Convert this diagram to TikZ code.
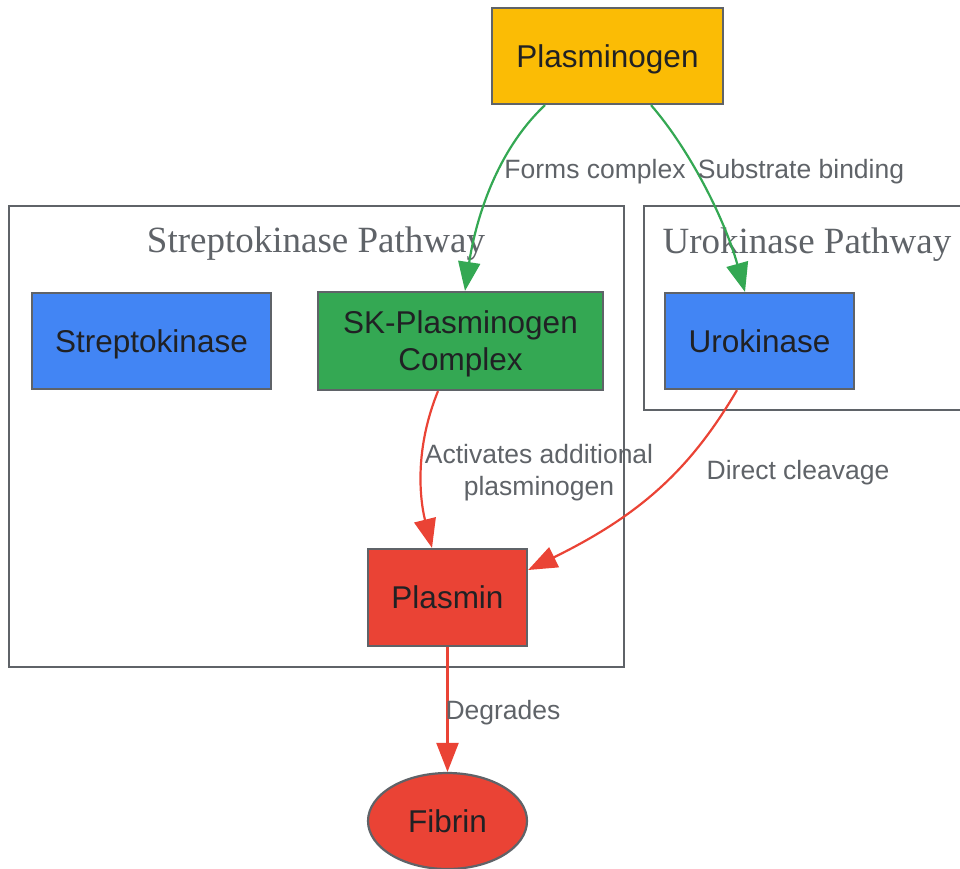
\documentclass[tikz,border=0pt]{standalone}
\usepackage{fontspec}
\setmainfont{Liberation Sans}
\newfontfamily\titlefont{Liberation Serif}
\usetikzlibrary{shapes.geometric,arrows.meta}
\definecolor{gy}{HTML}{FBBC05}
\definecolor{gb}{HTML}{4285F4}
\definecolor{gg}{HTML}{34A853}
\definecolor{gr}{HTML}{EA4335}
\definecolor{bordc}{HTML}{5F6368}
\definecolor{txtc}{HTML}{202124}
\tikzset{
  nodebase/.style={draw=bordc, line width=2.2pt, text=txtc, align=center,
    font=\fontsize{31.5}{37}\selectfont, inner sep=0pt},
  nodebox/.style={nodebase, text height=22.6pt, text depth=0pt},
  clusterbox/.style={draw=bordc, line width=2.2pt},
  clustertitle/.style={text=bordc, font=\titlefont\fontsize{37}{40}\selectfont, inner sep=0pt,
    text height=24.5pt, text depth=0pt},
  elabelbase/.style={text=bordc, font=\fontsize{26.5}{32}\selectfont, align=center, inner sep=0pt},
  elabel/.style={elabelbase, text height=19pt, text depth=0pt},
  conn/.style={line width=2.2pt, -{Triangle[length=29pt,width=22pt]}},
}
\begin{document}
\begin{tikzpicture}[x=1pt,y=-1pt]
\useasboundingbox (0,0) rectangle (960,868);
% clusters
\draw[clusterbox] (9,206) rectangle (624,667);
\node[clustertitle] (t1) at (316,240.5) {Streptokinase Pathway};
\draw[clusterbox] (964,206) -- (644,206) -- (644,410) -- (964,410);
\node[clustertitle] (t2) at (807,241) {Urokinase Pathway};
% nodes
\node[nodebox, fill=gy, minimum width=231pt, minimum height=96pt] (plg) at (607.5,56) {Plasminogen};
\node[nodebox, fill=gb, minimum width=239pt, minimum height=96pt] (sk) at (151.5,341) {Streptokinase};
\node[nodebase, fill=gg, minimum width=285pt, minimum height=98pt] (skc) at (460.5,341)
  {\raisebox{-3.5pt}[\height][\depth]{\begin{tabular}{@{}c@{}}SK-Plasminogen\\Complex\end{tabular}}};
\node[nodebox, fill=gb, minimum width=189pt, minimum height=96pt] (uro) at (759.5,341) {Urokinase};
\node[nodebox, fill=gr, minimum width=159pt, minimum height=97pt] (pla) at (447.5,597.5) {Plasmin};
\node[nodebox, fill=gr, ellipse, minimum width=159pt, minimum height=96pt] (fib) at (447.5,821) {Fibrin};
% connectors
\draw[conn, draw=gg] ([xshift=-62.5pt]plg.south) .. controls (492,155) and (474,230) .. ([xshift=4.5pt]skc.north);
\draw[conn, draw=gg] ([xshift=43.5pt]plg.south) .. controls (690,150) and (725,220) .. ([xshift=-14.5pt]uro.north);
\draw[conn, draw=gr] ([xshift=-22.5pt]skc.south) .. controls (414,450) and (420,500) .. ([xshift=-15.5pt]pla.north);
\draw[conn, draw=gr] ([xshift=-22.5pt]uro.south) .. controls (690,470) and (640,515) .. ([yshift=27.5pt]pla.east);
\draw[conn, draw=gr] (pla.south) -- (fib.north);
% labels
\node[elabel] (l1) at (595,169) {Forms complex};
\node[elabel] (l2) at (801,169) {Substrate binding};
\node[elabelbase] (l3) at (539,473) {Activates additional\\plasminogen};
\node[elabel] (l4) at (798,470) {Direct cleavage};
\node[elabel] (l5) at (503,710) {Degrades};
\end{tikzpicture}
\end{document}
